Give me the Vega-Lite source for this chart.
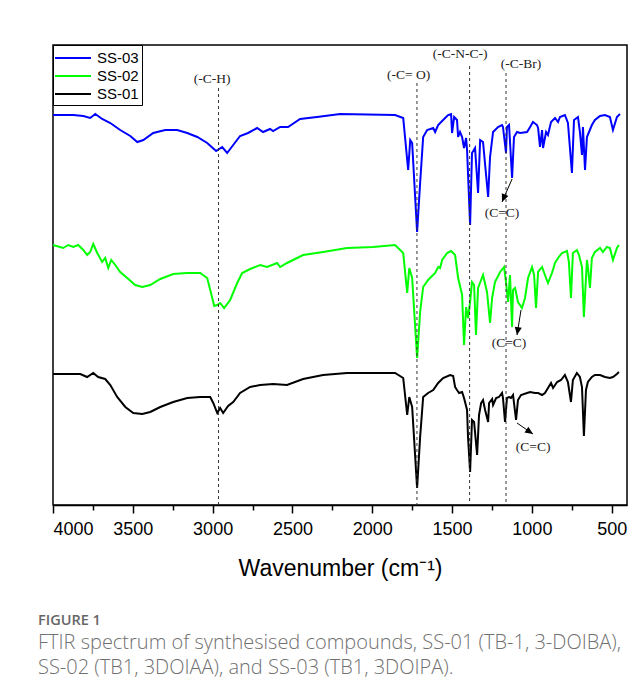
{
  "$schema": "https://vega.github.io/schema/vega-lite/v6.json",
  "width": 574,
  "height": 460,
  "autosize": {"type": "none"},
  "padding": {"left": 53, "top": 45, "right": 11, "bottom": 192},
  "background": "white",
  "config": {
    "view": {"stroke": "#000", "strokeWidth": 1.5}
  },
  "title": {
    "text": "FIGURE 1",
    "subtitle": ["FTIR spectrum of synthesised compounds, SS-01 (TB-1, 3-DOIBA),", "SS-02 (TB1, 3DOIAA), and SS-03 (TB1, 3DOIPA)."],
    "orient": "bottom",
    "anchor": "start",
    "dx": -11,
    "offset": 34,
    "font": "Open Sans",
    "fontSize": 14.5,
    "fontWeight": 600,
    "color": "#666",
    "subtitleFont": "Open Sans",
    "subtitleFontSize": 20,
    "subtitleFontWeight": 300,
    "subtitleColor": "#707070",
    "subtitleLineHeight": 25,
    "subtitlePadding": 4
  },
  "datasets": {
    "spectra": [
      {"wn":4000,"T":390,"s":"SS-03"},{"wn":3873,"T":390,"s":"SS-03"},{"wn":3810,"T":389,"s":"SS-03"},{"wn":3767,"T":387,"s":"SS-03"},{"wn":3735,"T":391,"s":"SS-03"},{"wn":3692,"T":386,"s":"SS-03"},{"wn":3641,"T":382,"s":"SS-03"},{"wn":3579,"T":375,"s":"SS-03"},{"wn":3516,"T":369,"s":"SS-03"},{"wn":3472,"T":363,"s":"SS-03"},{"wn":3434,"T":365,"s":"SS-03"},{"wn":3372,"T":372,"s":"SS-03"},{"wn":3297,"T":375,"s":"SS-03"},{"wn":3222,"T":375,"s":"SS-03"},{"wn":3159,"T":372,"s":"SS-03"},{"wn":3096,"T":368,"s":"SS-03"},{"wn":3034,"T":362,"s":"SS-03"},{"wn":2978,"T":354,"s":"SS-03"},{"wn":2940,"T":358,"s":"SS-03"},{"wn":2909,"T":352,"s":"SS-03"},{"wn":2871,"T":360,"s":"SS-03"},{"wn":2828,"T":369,"s":"SS-03"},{"wn":2778,"T":372,"s":"SS-03"},{"wn":2721,"T":377,"s":"SS-03"},{"wn":2684,"T":373,"s":"SS-03"},{"wn":2640,"T":376,"s":"SS-03"},{"wn":2621,"T":374,"s":"SS-03"},{"wn":2577,"T":378,"s":"SS-03"},{"wn":2527,"T":378,"s":"SS-03"},{"wn":2452,"T":386,"s":"SS-03"},{"wn":2346,"T":388,"s":"SS-03"},{"wn":2201,"T":391,"s":"SS-03"},{"wn":1857,"T":390,"s":"SS-03"},{"wn":1806,"T":387,"s":"SS-03"},{"wn":1775,"T":335,"s":"SS-03"},{"wn":1762,"T":365,"s":"SS-03"},{"wn":1750,"T":362,"s":"SS-03"},{"wn":1719,"T":273,"s":"SS-03"},{"wn":1700,"T":322,"s":"SS-03"},{"wn":1681,"T":368,"s":"SS-03"},{"wn":1656,"T":375,"s":"SS-03"},{"wn":1618,"T":377,"s":"SS-03"},{"wn":1606,"T":373,"s":"SS-03"},{"wn":1587,"T":380,"s":"SS-03"},{"wn":1556,"T":385,"s":"SS-03"},{"wn":1525,"T":390,"s":"SS-03"},{"wn":1506,"T":391,"s":"SS-03"},{"wn":1500,"T":372,"s":"SS-03"},{"wn":1487,"T":388,"s":"SS-03"},{"wn":1469,"T":385,"s":"SS-03"},{"wn":1462,"T":368,"s":"SS-03"},{"wn":1450,"T":373,"s":"SS-03"},{"wn":1437,"T":368,"s":"SS-03"},{"wn":1425,"T":357,"s":"SS-03"},{"wn":1412,"T":367,"s":"SS-03"},{"wn":1406,"T":355,"s":"SS-03"},{"wn":1387,"T":280,"s":"SS-03"},{"wn":1375,"T":352,"s":"SS-03"},{"wn":1356,"T":357,"s":"SS-03"},{"wn":1337,"T":312,"s":"SS-03"},{"wn":1324,"T":365,"s":"SS-03"},{"wn":1306,"T":363,"s":"SS-03"},{"wn":1274,"T":308,"s":"SS-03"},{"wn":1262,"T":348,"s":"SS-03"},{"wn":1243,"T":373,"s":"SS-03"},{"wn":1212,"T":378,"s":"SS-03"},{"wn":1187,"T":380,"s":"SS-03"},{"wn":1181,"T":378,"s":"SS-03"},{"wn":1162,"T":352,"s":"SS-03"},{"wn":1156,"T":378,"s":"SS-03"},{"wn":1143,"T":380,"s":"SS-03"},{"wn":1124,"T":327,"s":"SS-03"},{"wn":1112,"T":368,"s":"SS-03"},{"wn":1093,"T":373,"s":"SS-03"},{"wn":1074,"T":372,"s":"SS-03"},{"wn":1030,"T":373,"s":"SS-03"},{"wn":1011,"T":378,"s":"SS-03"},{"wn":993,"T":383,"s":"SS-03"},{"wn":968,"T":380,"s":"SS-03"},{"wn":961,"T":377,"s":"SS-03"},{"wn":949,"T":358,"s":"SS-03"},{"wn":936,"T":375,"s":"SS-03"},{"wn":930,"T":357,"s":"SS-03"},{"wn":911,"T":373,"s":"SS-03"},{"wn":899,"T":370,"s":"SS-03"},{"wn":880,"T":383,"s":"SS-03"},{"wn":855,"T":387,"s":"SS-03"},{"wn":836,"T":383,"s":"SS-03"},{"wn":824,"T":388,"s":"SS-03"},{"wn":793,"T":390,"s":"SS-03"},{"wn":774,"T":382,"s":"SS-03"},{"wn":749,"T":332,"s":"SS-03"},{"wn":736,"T":385,"s":"SS-03"},{"wn":711,"T":388,"s":"SS-03"},{"wn":699,"T":373,"s":"SS-03"},{"wn":686,"T":350,"s":"SS-03"},{"wn":680,"T":378,"s":"SS-03"},{"wn":667,"T":335,"s":"SS-03"},{"wn":655,"T":368,"s":"SS-03"},{"wn":642,"T":373,"s":"SS-03"},{"wn":624,"T":380,"s":"SS-03"},{"wn":605,"T":385,"s":"SS-03"},{"wn":573,"T":389,"s":"SS-03"},{"wn":542,"T":390,"s":"SS-03"},{"wn":511,"T":388,"s":"SS-03"},{"wn":492,"T":375,"s":"SS-03"},{"wn":467,"T":388,"s":"SS-03"},{"wn":448,"T":391,"s":"SS-03"},
      {"wn":4000,"T":260,"s":"SS-02"},{"wn":3936,"T":257,"s":"SS-02"},{"wn":3904,"T":260,"s":"SS-02"},{"wn":3873,"T":258,"s":"SS-02"},{"wn":3842,"T":260,"s":"SS-02"},{"wn":3810,"T":255,"s":"SS-02"},{"wn":3786,"T":250,"s":"SS-02"},{"wn":3767,"T":253,"s":"SS-02"},{"wn":3748,"T":261,"s":"SS-02"},{"wn":3723,"T":252,"s":"SS-02"},{"wn":3692,"T":243,"s":"SS-02"},{"wn":3673,"T":247,"s":"SS-02"},{"wn":3654,"T":237,"s":"SS-02"},{"wn":3635,"T":245,"s":"SS-02"},{"wn":3610,"T":240,"s":"SS-02"},{"wn":3579,"T":233,"s":"SS-02"},{"wn":3535,"T":227,"s":"SS-02"},{"wn":3485,"T":220,"s":"SS-02"},{"wn":3441,"T":218,"s":"SS-02"},{"wn":3391,"T":220,"s":"SS-02"},{"wn":3328,"T":226,"s":"SS-02"},{"wn":3247,"T":231,"s":"SS-02"},{"wn":3159,"T":232,"s":"SS-02"},{"wn":3078,"T":232,"s":"SS-02"},{"wn":3034,"T":227,"s":"SS-02"},{"wn":3015,"T":215,"s":"SS-02"},{"wn":2990,"T":199,"s":"SS-02"},{"wn":2971,"T":200,"s":"SS-02"},{"wn":2953,"T":202,"s":"SS-02"},{"wn":2928,"T":197,"s":"SS-02"},{"wn":2890,"T":205,"s":"SS-02"},{"wn":2846,"T":222,"s":"SS-02"},{"wn":2815,"T":232,"s":"SS-02"},{"wn":2765,"T":236,"s":"SS-02"},{"wn":2702,"T":240,"s":"SS-02"},{"wn":2659,"T":238,"s":"SS-02"},{"wn":2596,"T":242,"s":"SS-02"},{"wn":2577,"T":238,"s":"SS-02"},{"wn":2534,"T":242,"s":"SS-02"},{"wn":2433,"T":250,"s":"SS-02"},{"wn":2308,"T":253,"s":"SS-02"},{"wn":2158,"T":257,"s":"SS-02"},{"wn":1995,"T":258,"s":"SS-02"},{"wn":1857,"T":260,"s":"SS-02"},{"wn":1806,"T":252,"s":"SS-02"},{"wn":1781,"T":212,"s":"SS-02"},{"wn":1768,"T":237,"s":"SS-02"},{"wn":1750,"T":227,"s":"SS-02"},{"wn":1719,"T":147,"s":"SS-02"},{"wn":1700,"T":193,"s":"SS-02"},{"wn":1681,"T":218,"s":"SS-02"},{"wn":1650,"T":225,"s":"SS-02"},{"wn":1606,"T":232,"s":"SS-02"},{"wn":1587,"T":238,"s":"SS-02"},{"wn":1575,"T":237,"s":"SS-02"},{"wn":1562,"T":245,"s":"SS-02"},{"wn":1531,"T":252,"s":"SS-02"},{"wn":1506,"T":254,"s":"SS-02"},{"wn":1481,"T":250,"s":"SS-02"},{"wn":1462,"T":227,"s":"SS-02"},{"wn":1437,"T":210,"s":"SS-02"},{"wn":1425,"T":160,"s":"SS-02"},{"wn":1412,"T":198,"s":"SS-02"},{"wn":1400,"T":187,"s":"SS-02"},{"wn":1387,"T":203,"s":"SS-02"},{"wn":1375,"T":223,"s":"SS-02"},{"wn":1362,"T":220,"s":"SS-02"},{"wn":1350,"T":170,"s":"SS-02"},{"wn":1337,"T":217,"s":"SS-02"},{"wn":1318,"T":225,"s":"SS-02"},{"wn":1306,"T":230,"s":"SS-02"},{"wn":1281,"T":213,"s":"SS-02"},{"wn":1262,"T":182,"s":"SS-02"},{"wn":1249,"T":207,"s":"SS-02"},{"wn":1231,"T":223,"s":"SS-02"},{"wn":1199,"T":233,"s":"SS-02"},{"wn":1174,"T":238,"s":"SS-02"},{"wn":1162,"T":223,"s":"SS-02"},{"wn":1149,"T":203,"s":"SS-02"},{"wn":1137,"T":230,"s":"SS-02"},{"wn":1124,"T":178,"s":"SS-02"},{"wn":1118,"T":215,"s":"SS-02"},{"wn":1105,"T":217,"s":"SS-02"},{"wn":1087,"T":203,"s":"SS-02"},{"wn":1062,"T":197,"s":"SS-02"},{"wn":1043,"T":207,"s":"SS-02"},{"wn":1024,"T":227,"s":"SS-02"},{"wn":999,"T":238,"s":"SS-02"},{"wn":986,"T":230,"s":"SS-02"},{"wn":974,"T":197,"s":"SS-02"},{"wn":961,"T":233,"s":"SS-02"},{"wn":936,"T":238,"s":"SS-02"},{"wn":918,"T":230,"s":"SS-02"},{"wn":899,"T":222,"s":"SS-02"},{"wn":874,"T":232,"s":"SS-02"},{"wn":855,"T":242,"s":"SS-02"},{"wn":836,"T":247,"s":"SS-02"},{"wn":811,"T":252,"s":"SS-02"},{"wn":780,"T":254,"s":"SS-02"},{"wn":768,"T":243,"s":"SS-02"},{"wn":755,"T":207,"s":"SS-02"},{"wn":743,"T":252,"s":"SS-02"},{"wn":718,"T":255,"s":"SS-02"},{"wn":705,"T":250,"s":"SS-02"},{"wn":686,"T":238,"s":"SS-02"},{"wn":674,"T":188,"s":"SS-02"},{"wn":655,"T":245,"s":"SS-02"},{"wn":649,"T":238,"s":"SS-02"},{"wn":636,"T":217,"s":"SS-02"},{"wn":624,"T":247,"s":"SS-02"},{"wn":605,"T":253,"s":"SS-02"},{"wn":573,"T":257,"s":"SS-02"},{"wn":555,"T":253,"s":"SS-02"},{"wn":530,"T":258,"s":"SS-02"},{"wn":511,"T":257,"s":"SS-02"},{"wn":492,"T":245,"s":"SS-02"},{"wn":467,"T":257,"s":"SS-02"},{"wn":455,"T":260,"s":"SS-02"},
      {"wn":4000,"T":131,"s":"SS-01"},{"wn":3892,"T":131,"s":"SS-01"},{"wn":3829,"T":131,"s":"SS-01"},{"wn":3786,"T":128,"s":"SS-01"},{"wn":3748,"T":132,"s":"SS-01"},{"wn":3717,"T":128,"s":"SS-01"},{"wn":3673,"T":126,"s":"SS-01"},{"wn":3641,"T":120,"s":"SS-01"},{"wn":3598,"T":108,"s":"SS-01"},{"wn":3547,"T":98,"s":"SS-01"},{"wn":3497,"T":92,"s":"SS-01"},{"wn":3441,"T":91,"s":"SS-01"},{"wn":3391,"T":93,"s":"SS-01"},{"wn":3328,"T":98,"s":"SS-01"},{"wn":3247,"T":103,"s":"SS-01"},{"wn":3159,"T":107,"s":"SS-01"},{"wn":3078,"T":108,"s":"SS-01"},{"wn":3015,"T":108,"s":"SS-01"},{"wn":2996,"T":102,"s":"SS-01"},{"wn":2971,"T":92,"s":"SS-01"},{"wn":2953,"T":97,"s":"SS-01"},{"wn":2934,"T":92,"s":"SS-01"},{"wn":2903,"T":99,"s":"SS-01"},{"wn":2871,"T":103,"s":"SS-01"},{"wn":2828,"T":112,"s":"SS-01"},{"wn":2765,"T":118,"s":"SS-01"},{"wn":2702,"T":120,"s":"SS-01"},{"wn":2621,"T":121,"s":"SS-01"},{"wn":2534,"T":120,"s":"SS-01"},{"wn":2433,"T":126,"s":"SS-01"},{"wn":2308,"T":130,"s":"SS-01"},{"wn":2158,"T":132,"s":"SS-01"},{"wn":1857,"T":132,"s":"SS-01"},{"wn":1806,"T":127,"s":"SS-01"},{"wn":1781,"T":90,"s":"SS-01"},{"wn":1768,"T":108,"s":"SS-01"},{"wn":1750,"T":98,"s":"SS-01"},{"wn":1719,"T":17,"s":"SS-01"},{"wn":1700,"T":68,"s":"SS-01"},{"wn":1681,"T":108,"s":"SS-01"},{"wn":1650,"T":112,"s":"SS-01"},{"wn":1618,"T":115,"s":"SS-01"},{"wn":1587,"T":122,"s":"SS-01"},{"wn":1556,"T":127,"s":"SS-01"},{"wn":1512,"T":130,"s":"SS-01"},{"wn":1493,"T":129,"s":"SS-01"},{"wn":1481,"T":118,"s":"SS-01"},{"wn":1469,"T":115,"s":"SS-01"},{"wn":1456,"T":112,"s":"SS-01"},{"wn":1437,"T":113,"s":"SS-01"},{"wn":1425,"T":107,"s":"SS-01"},{"wn":1406,"T":95,"s":"SS-01"},{"wn":1400,"T":68,"s":"SS-01"},{"wn":1387,"T":33,"s":"SS-01"},{"wn":1375,"T":85,"s":"SS-01"},{"wn":1362,"T":83,"s":"SS-01"},{"wn":1343,"T":50,"s":"SS-01"},{"wn":1331,"T":90,"s":"SS-01"},{"wn":1318,"T":102,"s":"SS-01"},{"wn":1306,"T":105,"s":"SS-01"},{"wn":1293,"T":95,"s":"SS-01"},{"wn":1274,"T":83,"s":"SS-01"},{"wn":1268,"T":102,"s":"SS-01"},{"wn":1249,"T":106,"s":"SS-01"},{"wn":1243,"T":100,"s":"SS-01"},{"wn":1224,"T":107,"s":"SS-01"},{"wn":1206,"T":108,"s":"SS-01"},{"wn":1187,"T":112,"s":"SS-01"},{"wn":1181,"T":107,"s":"SS-01"},{"wn":1168,"T":83,"s":"SS-01"},{"wn":1156,"T":107,"s":"SS-01"},{"wn":1143,"T":108,"s":"SS-01"},{"wn":1131,"T":107,"s":"SS-01"},{"wn":1118,"T":110,"s":"SS-01"},{"wn":1099,"T":85,"s":"SS-01"},{"wn":1087,"T":105,"s":"SS-01"},{"wn":1068,"T":110,"s":"SS-01"},{"wn":1030,"T":112,"s":"SS-01"},{"wn":1011,"T":113,"s":"SS-01"},{"wn":980,"T":112,"s":"SS-01"},{"wn":961,"T":112,"s":"SS-01"},{"wn":936,"T":110,"s":"SS-01"},{"wn":918,"T":112,"s":"SS-01"},{"wn":899,"T":117,"s":"SS-01"},{"wn":880,"T":122,"s":"SS-01"},{"wn":867,"T":117,"s":"SS-01"},{"wn":842,"T":123,"s":"SS-01"},{"wn":817,"T":125,"s":"SS-01"},{"wn":793,"T":130,"s":"SS-01"},{"wn":774,"T":123,"s":"SS-01"},{"wn":755,"T":103,"s":"SS-01"},{"wn":743,"T":125,"s":"SS-01"},{"wn":718,"T":132,"s":"SS-01"},{"wn":699,"T":128,"s":"SS-01"},{"wn":686,"T":118,"s":"SS-01"},{"wn":674,"T":69,"s":"SS-01"},{"wn":661,"T":115,"s":"SS-01"},{"wn":649,"T":123,"s":"SS-01"},{"wn":624,"T":128,"s":"SS-01"},{"wn":605,"T":130,"s":"SS-01"},{"wn":573,"T":130,"s":"SS-01"},{"wn":542,"T":128,"s":"SS-01"},{"wn":511,"T":127,"s":"SS-01"},{"wn":492,"T":128,"s":"SS-01"},{"wn":467,"T":131,"s":"SS-01"},{"wn":455,"T":133,"s":"SS-01"}
    ],
    "bands": [
      {"wn":2963,"top":417,"lx":3003,"ly":426,"label":"(-C-H)"},
      {"wn":1720,"top":422,"lx":1772,"ly":430,"label":"(-C= O)"},
      {"wn":1390,"top":439,"lx":1450,"ly":451,"label":"(-C-N-C-)"},
      {"wn":1162,"top":432,"lx":1068,"ly":441,"label":"(-C-Br)"}
    ],
    "arrows": [
      {"s":"SS-03","x1":1124,"y1":326,"x2":1187,"y2":303,"tx":1187,"ty":292,"label":"(C=C)"},
      {"s":"SS-02","x1":1068,"y1":195,"x2":1093,"y2":170,"tx":1143,"ty":162,"label":"(C=C)"},
      {"s":"SS-01","x1":1093,"y1":82,"x2":993,"y2":71,"tx":992,"ty":58,"label":"(C=C)"}
    ]
  },
  "layer": [
    {
      "data": {"name": "spectra"},
      "mark": {"type": "line", "strokeWidth": 2, "interpolate": "linear"},
      "encoding": {
        "x": {
          "field": "wn", "type": "quantitative",
          "scale": {"domain": [4000, 404], "nice": false, "zero": false},
          "axis": {
            "title": "Wavenumber (cm⁻¹)",
            "values": [4000, 3750, 3500, 3250, 3000, 2750, 2500, 2250, 2000, 1750, 1500, 1250, 1000, 750, 500],
            "labelExpr": "datum.value % 500 === 0 ? format(datum.value, 'd') : ''",
            "tickSize": {"condition": {"test": "datum.value % 500 === 0", "value": 8}, "value": 5},
            "tickColor": "#000",
            "tickWidth": 1.5,
            "domainColor": "#000",
            "domainWidth": 1.5,
            "grid": false,
            "labelFont": "Liberation Sans",
            "labelFontSize": 18,
            "labelColor": "#000",
            "labelPadding": 7,
            "titleFont": "Liberation Sans",
            "titleFontSize": 23,
            "titleFontWeight": "normal",
            "titleColor": "#000",
            "titlePadding": 19
          }
        },
        "y": {
          "field": "T", "type": "quantitative",
          "scale": {"domain": [0, 460], "nice": false, "zero": false},
          "axis": null
        },
        "color": {
          "field": "s", "type": "nominal",
          "scale": {"domain": ["SS-03", "SS-02", "SS-01"], "range": ["#0000ff", "#00ff00", "#000000"]},
          "legend": {
            "orient": "top-left",
            "offset": 0,
            "title": null,
            "strokeColor": "#000",
            "fillColor": "white",
            "padding": 3,
            "symbolType": "M-2,0H2",
            "symbolSize": 324,
            "symbolStrokeWidth": 2,
            "symbolOffset": 7,
            "labelFont": "Liberation Sans",
            "labelFontSize": 15,
            "labelColor": "#000",
            "labelOffset": 14,
            "rowPadding": 0
          }
        }
      }
    },
    {
      "data": {"name": "bands"},
      "mark": {"type": "rule", "strokeDash": [3, 3], "color": "#333", "strokeWidth": 1},
      "encoding": {
        "x": {"field": "wn", "type": "quantitative"},
        "y": {"field": "top", "type": "quantitative"},
        "y2": {"datum": 0}
      }
    },
    {
      "data": {"name": "bands"},
      "mark": {"type": "text", "font": "Liberation Serif", "fontSize": 13.5, "color": "#222", "align": "center", "baseline": "middle"},
      "encoding": {
        "x": {"field": "lx", "type": "quantitative"},
        "y": {"field": "ly", "type": "quantitative"},
        "text": {"field": "label"}
      }
    },
    {
      "data": {"name": "arrows"},
      "mark": {"type": "rule", "color": "#000", "strokeWidth": 1},
      "encoding": {
        "x": {"field": "x1", "type": "quantitative"},
        "y": {"field": "y1", "type": "quantitative"},
        "x2": {"field": "x2"},
        "y2": {"field": "y2"}
      }
    },
    {
      "data": {"name": "arrows"},
      "transform": [{"filter": "datum.s === 'SS-03'"}],
      "mark": {"type": "point", "shape": "M0,0L-0.45,1L0.45,1Z", "filled": true, "color": "#000", "size": 250, "angle": 203, "opacity": 1},
      "encoding": {
        "x": {"field": "x2", "type": "quantitative"},
        "y": {"field": "y2", "type": "quantitative"}
      }
    },
    {
      "data": {"name": "arrows"},
      "transform": [{"filter": "datum.s === 'SS-02'"}],
      "mark": {"type": "point", "shape": "M0,0L-0.45,1L0.45,1Z", "filled": true, "color": "#000", "size": 250, "angle": 189, "opacity": 1},
      "encoding": {
        "x": {"field": "x2", "type": "quantitative"},
        "y": {"field": "y2", "type": "quantitative"}
      }
    },
    {
      "data": {"name": "arrows"},
      "transform": [{"filter": "datum.s === 'SS-01'"}],
      "mark": {"type": "point", "shape": "M0,0L-0.45,1L0.45,1Z", "filled": true, "color": "#000", "size": 250, "angle": 124, "opacity": 1},
      "encoding": {
        "x": {"field": "x2", "type": "quantitative"},
        "y": {"field": "y2", "type": "quantitative"}
      }
    },
    {
      "data": {"name": "arrows"},
      "mark": {"type": "text", "font": "Liberation Serif", "fontSize": 13.5, "color": "#222", "align": "center", "baseline": "middle"},
      "encoding": {
        "x": {"field": "tx", "type": "quantitative"},
        "y": {"field": "ty", "type": "quantitative"},
        "text": {"field": "label"}
      }
    }
  ]
}
